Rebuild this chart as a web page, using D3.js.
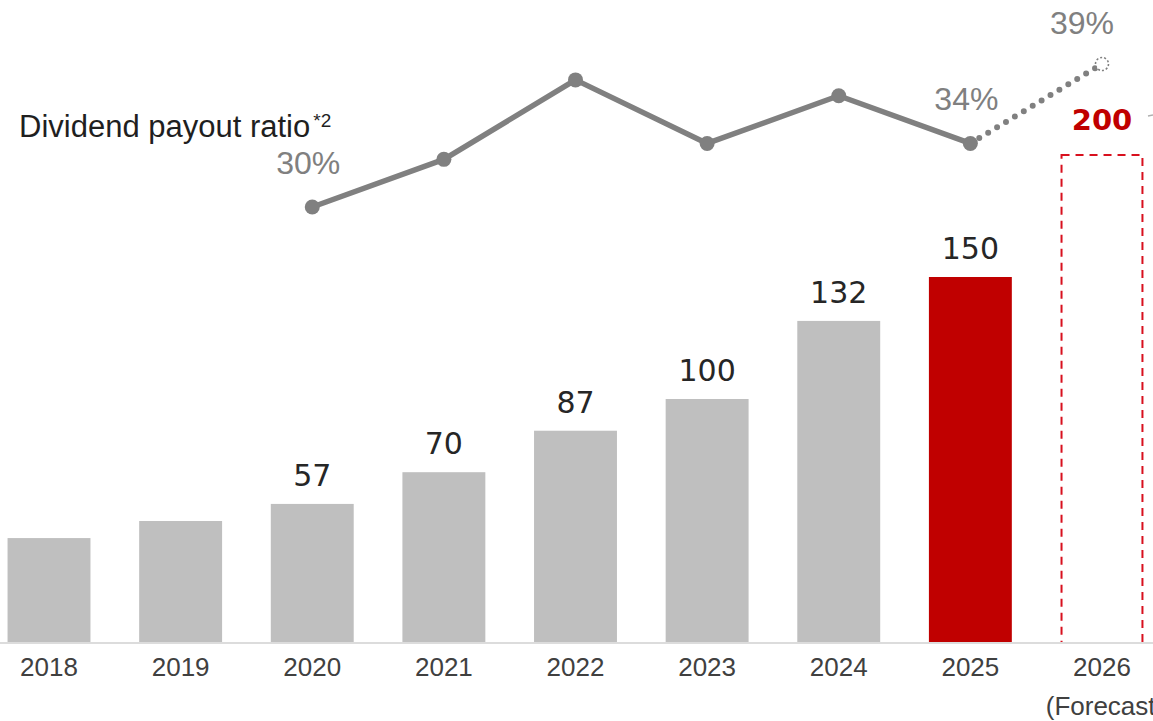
<!DOCTYPE html>
<html>
<head>
<meta charset="utf-8">
<script src="https://cdn.jsdelivr.net/npm/d3@7"></script>
<style>
  html, body { margin: 0; padding: 0; background: #fff; }
  svg { display: block; }
</style>
</head>
<body>
<svg id="chart" width="1153" height="721"></svg>
<script>
// Fiscal years and annual dividend per share
const years = ["2018", "2019", "2020", "2021", "2022", "2023", "2024", "2025", "2026"];
const dividends = [43, 50, 57, 70, 87, 100, 132, 150, 200];
// Years whose dividend value is printed above the bar
const labeledDividendYears = ["2020", "2021", "2022", "2023", "2024", "2025", "2026"];
const currentYear = "2025";
const forecastYear = "2026";

// Dividend payout ratio (%)
const ratioYears = ["2020", "2021", "2022", "2023", "2024", "2025", "2026"];
const ratios = [30, 33, 38, 34, 37, 34, 39];
const labeledRatioYears = ["2020", "2025", "2026"];

const tickLabels = years;
const forecastNote = "(Forecast)";
const ratioTitle = "Dividend payout ratio";
const ratioNote = "*2";

const W = 1153, H = 721;
const baseY = 643;
const svg = d3.select("#chart");

const GRAY_BAR = "#bfbfbf";
const RED = "#c00000";
const LINE = "#808080";

const x = d3.scaleBand()
  .domain(years)
  .range([-16.8, 1167.8])
  .paddingInner(0.37)
  .paddingOuter(0.185);
const cx = d => x(d) + x.bandwidth() / 2;

const y = d3.scaleLinear().domain([0, 200]).range([baseY, 155]);
const yr = d3.scaleLinear().domain([30, 39]).range([207, 64]);

const bars = years.map((yv, i) => ({ year: yv, value: dividends[i] }));

// Actual bars
svg.append("g").selectAll("rect")
  .data(bars.filter(d => d.year !== forecastYear))
  .join("rect")
  .attr("x", d => x(d.year))
  .attr("y", d => y(d.value))
  .attr("width", x.bandwidth())
  .attr("height", d => baseY - y(d.value))
  .attr("fill", d => d.year === currentYear ? RED : GRAY_BAR);

// Forecast bar outline
svg.append("g").selectAll("rect")
  .data(bars.filter(d => d.year === forecastYear))
  .join("rect")
  .attr("x", d => x(d.year) + 1)
  .attr("y", d => y(d.value))
  .attr("width", x.bandwidth() - 2)
  .attr("height", d => baseY - y(d.value))
  .attr("fill", "none")
  .attr("stroke", "#d8101e")
  .attr("stroke-width", 2)
  .attr("stroke-dasharray", "8 6");

// Baseline
svg.append("line")
  .attr("x1", 0).attr("x2", W)
  .attr("y1", baseY).attr("y2", baseY)
  .attr("stroke", "#dcdcdc")
  .attr("stroke-width", 2);

// Bar value labels
svg.append("g").selectAll("text")
  .data(bars.filter(d => labeledDividendYears.includes(d.year)))
  .join("text")
  .attr("x", d => cx(d.year))
  .attr("y", d => y(d.value) - (d.year === forecastYear ? 25 : 18))
  .attr("text-anchor", "middle")
  .attr("font-family", "'DejaVu Sans', Verdana, sans-serif")
  .attr("font-size", d => d.year === forecastYear ? 29 : 30)
  .attr("font-weight", d => d.year === forecastYear ? "bold" : "normal")
  .attr("fill", d => d.year === forecastYear ? RED : "#262626")
  .text(d => d.value);

// Year tick labels
const axis = d3.axisBottom(x).tickSize(0).tickPadding(0).tickFormat((d, i) => tickLabels[i]);
const axisG = svg.append("g").attr("transform", `translate(0, ${baseY})`).call(axis);
axisG.select(".domain").remove();
axisG.selectAll("text")
  .attr("y", 33)
  .attr("dy", 0)
  .attr("font-family", "'Liberation Sans', Arial, sans-serif")
  .attr("font-size", 26)
  .attr("fill", "#404040");

svg.append("text")
  .attr("x", cx(forecastYear) + 3)
  .attr("y", 715)
  .attr("text-anchor", "middle")
  .attr("font-family", "'Liberation Sans', Arial, sans-serif")
  .attr("font-size", 26)
  .attr("fill", "#404040")
  .text(forecastNote);

// Payout ratio line
const pts = ratioYears.map((yv, i) => ({ year: yv, value: ratios[i] }));
const actualPts = pts.filter(d => d.year !== forecastYear);
const lastActual = actualPts[actualPts.length - 1];
const forecastPt = pts.find(d => d.year === forecastYear);
const line = d3.line().x(d => cx(d.year)).y(d => yr(d.value));

svg.append("path")
  .datum(actualPts)
  .attr("d", line)
  .attr("fill", "none")
  .attr("stroke", LINE)
  .attr("stroke-width", 5.5)
  .attr("stroke-linejoin", "round");

svg.append("path")
  .datum([lastActual, forecastPt])
  .attr("d", line)
  .attr("fill", "none")
  .attr("stroke", LINE)
  .attr("stroke-width", 6)
  .attr("stroke-linecap", "round")
  .attr("stroke-dasharray", "0 10.4")
  .attr("stroke-dashoffset", -10.4);

svg.append("g").selectAll("circle")
  .data(actualPts)
  .join("circle")
  .attr("cx", d => cx(d.year))
  .attr("cy", d => yr(d.value))
  .attr("r", 7.5)
  .attr("fill", LINE);

svg.append("circle")
  .datum(forecastPt)
  .attr("cx", d => cx(d.year))
  .attr("cy", d => yr(d.value))
  .attr("r", 6.5)
  .attr("fill", "#fff")
  .attr("stroke", LINE)
  .attr("stroke-width", 1.6)
  .attr("stroke-dasharray", "2 2");

// Payout ratio labels
svg.append("g").selectAll("text")
  .data(pts.filter(d => labeledRatioYears.includes(d.year)))
  .join("text")
  .attr("x", d => d.year === forecastYear ? cx(d.year) + 12 : cx(d.year) - 4)
  .attr("y", d => yr(d.value) - (d.year === forecastYear ? 30 : 33))
  .attr("text-anchor", d => d.year === forecastYear ? "end" : "middle")
  .attr("font-family", "'Liberation Sans', Arial, sans-serif")
  .attr("font-size", 32)
  .attr("fill", LINE)
  .text(d => d.value + "%");

// Series title
const title = svg.append("text")
  .attr("x", 19)
  .attr("y", 137)
  .attr("font-family", "'Liberation Sans', Arial, sans-serif")
  .attr("font-size", 31)
  .attr("fill", "#1f1f1f");
title.append("tspan").text(ratioTitle);
title.append("tspan")
  .attr("dx", 3)
  .attr("dy", -10)
  .attr("font-size", 19)
  .text(ratioNote);

// Start of a connector running off the right edge
svg.append("line")
  .attr("x1", 1148).attr("x2", W)
  .attr("y1", 116).attr("y2", 115)
  .attr("stroke", "#b0b0b0")
  .attr("stroke-width", 1.5);
</script>
</body>
</html>
